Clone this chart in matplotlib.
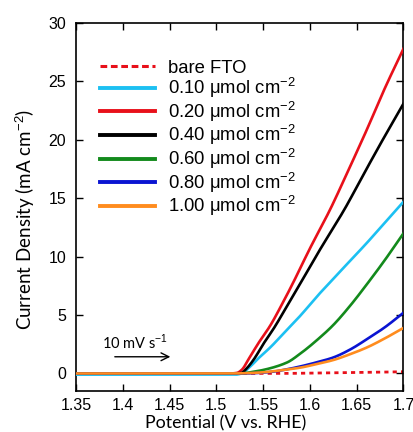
import numpy as np
import matplotlib
matplotlib.use("Agg")
import matplotlib.pyplot as plt

# Linear sweep voltammetry data: potential (V vs. RHE) and current density (mA cm^-2)
v_bare = [1.35, 1.55, 1.58, 1.60, 1.63, 1.65, 1.68, 1.70]
j_bare = [0.0, 0.0, 0.01, 0.03, 0.06, 0.08, 0.12, 0.15]

v_010 = [1.35, 1.52, 1.527, 1.535, 1.545, 1.5576, 1.575, 1.5897, 1.6076, 1.625, 1.643, 1.66, 1.68, 1.70]
j_010 = [-0.1, -0.1, 0.0, 0.5, 1.3, 2.23, 3.7, 4.94, 6.6, 8.1, 9.65, 11.1, 12.9, 14.7]

v_020 = [1.35, 1.515, 1.522, 1.527, 1.535, 1.545, 1.5576, 1.57, 1.581, 1.60, 1.6218, 1.64, 1.661, 1.68, 1.70]
j_020 = [0.0, 0.0, 0.05, 0.3, 1.3, 2.6, 4.1, 5.9, 7.6, 10.7, 14.07, 17.2, 20.9, 24.4, 27.8]

v_040 = [1.35, 1.52, 1.527, 1.532, 1.54, 1.55, 1.562, 1.575, 1.5897, 1.61, 1.638, 1.655, 1.675, 1.70]
j_040 = [0.0, 0.0, 0.05, 0.4, 1.2, 2.5, 3.94, 5.7, 7.7, 10.5, 14.2, 16.7, 19.6, 23.1]

v_060 = [1.35, 1.525, 1.54, 1.55, 1.5755, 1.5897, 1.611, 1.625, 1.643, 1.661, 1.68, 1.70]
j_060 = [0.0, 0.0, 0.15, 0.3, 0.94, 1.7, 3.1, 4.15, 5.8, 7.65, 9.7, 12.0]

v_080 = [1.35, 1.53, 1.545, 1.56, 1.575, 1.5897, 1.607, 1.625, 1.643, 1.661, 1.68, 1.70]
j_080 = [0.0, 0.0, 0.05, 0.15, 0.35, 0.6, 0.95, 1.37, 2.05, 2.94, 3.95, 5.2]

v_100 = [1.35, 1.515, 1.53, 1.55, 1.57, 1.5897, 1.607, 1.625, 1.643, 1.661, 1.68, 1.70]
j_100 = [0.0, 0.0, 0.02, 0.1, 0.28, 0.5, 0.8, 1.15, 1.65, 2.23, 3.0, 3.9]

labels = ["bare FTO",
          r"0.10 μmol cm$^{-2}$",
          r"0.20 μmol cm$^{-2}$",
          r"0.40 μmol cm$^{-2}$",
          r"0.60 μmol cm$^{-2}$",
          r"0.80 μmol cm$^{-2}$",
          r"1.00 μmol cm$^{-2}$"]

x_ticks = [1.35, 1.4, 1.45, 1.5, 1.55, 1.6, 1.65, 1.7]
x_ticklabels = ["1.35", "1.4", "1.45", "1.5", "1.55", "1.6", "1.65", "1.7"]
y_ticks = [0, 5, 10, 15, 20, 25, 30]

colors = ["#e8101a", "#1cc0f2", "#e8101a", "#000000", "#138a1c", "#0a14d2", "#ff8c1e"]

plt.rcParams["font.family"] = ["Liberation Sans", "DejaVu Sans"]
plt.rcParams["mathtext.fontset"] = "custom"
plt.rcParams["mathtext.rm"] = "Liberation Sans"

fig = plt.figure(figsize=(4.14, 4.32), dpi=100)
ax = fig.add_axes([0.1836, 0.0949, 0.7910, 0.8519])


def pchip(v, j, n=500):
    """Monotone piecewise cubic Hermite interpolation through the points."""
    x = np.asarray(v, float)
    y = np.asarray(j, float)
    h = np.diff(x)
    d = np.diff(y) / h
    m = np.zeros_like(x)
    for k in range(1, len(x) - 1):
        if d[k - 1] * d[k] > 0:
            w1 = 2 * h[k] + h[k - 1]
            w2 = h[k] + 2 * h[k - 1]
            m[k] = (w1 + w2) / (w1 / d[k - 1] + w2 / d[k])
    m[0] = d[0]
    m[-1] = d[-1]
    xs = np.linspace(x[0], x[-1], n)
    idx = np.clip(np.searchsorted(x, xs) - 1, 0, len(x) - 2)
    t = (xs - x[idx]) / h[idx]
    h00 = 2 * t**3 - 3 * t**2 + 1
    h10 = t**3 - 2 * t**2 + t
    h01 = -2 * t**3 + 3 * t**2
    h11 = t**3 - t**2
    ys = h00 * y[idx] + h10 * h[idx] * m[idx] + h01 * y[idx + 1] + h11 * h[idx] * m[idx + 1]
    return xs, ys


series = [(v_bare, j_bare), (v_010, j_010), (v_020, j_020), (v_040, j_040),
          (v_060, j_060), (v_080, j_080), (v_100, j_100)]

handles = []
for i, ((v, j), c, lab) in enumerate(zip(series, colors, labels)):
    xs, ys = pchip(v, j)
    if i == 0:
        ax.plot(xs, ys, color=c, lw=2.0, linestyle=(0, (1.5, 1.5)), zorder=2)
        h, = ax.plot([], [], color=c, lw=2.2, linestyle=(0, (2.2, 1.2)), label=lab)
    else:
        ax.plot(xs, ys, color=c, lw=1.9, zorder=3 + i if i != 1 else 3)
        h, = ax.plot([], [], color=c, lw=2.8, label=lab)
    handles.append(h)

ax.set_xlim(1.35, 1.70)
ax.set_ylim(-1.5, 30)
ax.set_xticks(x_ticks)
ax.set_xticklabels(x_ticklabels)
ax.set_yticks(y_ticks)
ax.tick_params(direction="in", length=5, width=1.0, top=True, right=True,
               labelsize=11.5)
ax.tick_params(axis="x", pad=5)
ax.tick_params(axis="y", pad=7)

for s in ax.spines.values():
    s.set_linewidth(1.2)

ax.set_xlabel("Potential (V vs. RHE)", family=["Lato", "DejaVu Sans"], fontsize=12.8)
ax.set_ylabel("Current Density (mA cm$^{-2}$)", family=["Lato", "DejaVu Sans"], fontsize=13.5)
ax.xaxis.set_label_coords(0.458, -0.066)
ax.yaxis.set_label_coords(-0.118, 0.465)

leg = ax.legend(handles=handles, loc="upper left", bbox_to_anchor=(0.05, 0.92),
                frameon=False, fontsize=13.3, handlelength=3.0, handletextpad=0.7,
                labelspacing=-0.03, borderaxespad=0.0)

ax.annotate("", xy=(1.4538, 1.43), xytext=(1.3885, 1.43),
            arrowprops=dict(arrowstyle="->", color="black", lw=1.0, mutation_scale=14))
ax.text(1.378, 1.8, "10 mV s$^{-1}$", family=["Lato", "DejaVu Sans"], fontsize=10.5,
        ha="left", va="bottom")

fig.savefig("out.png", dpi=100)
